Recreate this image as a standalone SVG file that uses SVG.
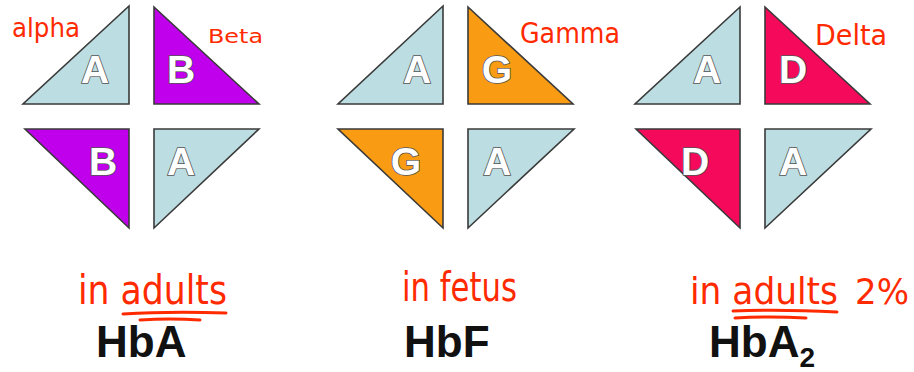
<svg xmlns="http://www.w3.org/2000/svg" width="914" height="372" viewBox="0 0 914 372">
<style>
.tri{stroke:#3a3a3a;stroke-width:1.6;stroke-linejoin:miter}
.a{fill:#bcdde1}
.b{fill:#c000ec}
.g{fill:#f99b13}
.d{fill:#f5095a}
.lt{font-family:"Liberation Sans",Arial,sans-serif;font-weight:bold;font-size:39px;fill:#fff;stroke:#555;stroke-width:1.6;paint-order:stroke;text-anchor:middle}
.hb{font-family:"Liberation Sans",Arial,sans-serif;font-weight:bold;font-size:44px;fill:#111}
.hand{font-family:"DejaVu Sans","Liberation Sans",sans-serif;fill:#ff2a00}
.ul{fill:none;stroke:#ff2a00;stroke-width:3;stroke-linecap:round}
</style>
<rect width="914" height="372" fill="#fff"/>
<g id="hba">
<polygon class="tri a" points="129,6 23,104 129,104"/>
<polygon class="tri b" points="154,7 154,104 259,104"/>
<polygon class="tri b" points="25,129 129,129 129,228"/>
<polygon class="tri a" points="154,129 259,129 154,228"/>
<text class="lt" x="95" y="83">A</text>
<text class="lt" x="181" y="83">B</text>
<text class="lt" x="103" y="175">B</text>
<text class="lt" x="181" y="175">A</text>
<text class="hb" x="96" y="357">HbA</text>
</g>
<g id="hbf">
<polygon class="tri a" points="443,6 338,104 443,104"/>
<polygon class="tri g" points="468,7 468,104 573,104"/>
<polygon class="tri g" points="338,129 443,129 443,228"/>
<polygon class="tri a" points="468,129 574,129 468,228"/>
<text class="lt" x="417" y="83">A</text>
<text class="lt" x="497" y="83">G</text>
<text class="lt" x="406" y="175">G</text>
<text class="lt" x="497" y="175">A</text>
<text class="hb" x="404" y="357">HbF</text>
</g>
<g id="hba2">
<polygon class="tri a" points="740,7 635,104 740,104"/>
<polygon class="tri d" points="765,7 765,104 870,104"/>
<polygon class="tri d" points="636,129 740,129 740,228"/>
<polygon class="tri a" points="765,129 871,129 765,228"/>
<text class="lt" x="707" y="83">A</text>
<text class="lt" x="793" y="83">D</text>
<text class="lt" x="695" y="175">D</text>
<text class="lt" x="793" y="175">A</text>
<text class="hb" x="709" y="357">HbA<tspan font-size="28" dy="10">2</tspan></text>
</g>
<g id="annotations">
<text class="hand" x="12" y="37" font-size="26" textLength="68" lengthAdjust="spacingAndGlyphs">alpha</text>
<text class="hand" x="208" y="43" font-size="20" textLength="55" lengthAdjust="spacingAndGlyphs">Beta</text>
<text class="hand" x="520" y="43" font-size="28" textLength="100" lengthAdjust="spacingAndGlyphs">Gamma</text>
<text class="hand" x="815" y="45" font-size="28" textLength="72" lengthAdjust="spacingAndGlyphs">Delta</text>
<text class="hand" x="78" y="304" font-size="40" textLength="149" lengthAdjust="spacingAndGlyphs">in adults</text>
<text class="hand" x="402" y="301" font-size="40" textLength="115" lengthAdjust="spacingAndGlyphs">in fetus</text>
<text class="hand" x="690" y="304" font-size="38" textLength="148" lengthAdjust="spacingAndGlyphs">in adults</text>
<text class="hand" x="855" y="304" font-size="36" textLength="54" lengthAdjust="spacingAndGlyphs">2%</text>
</g>
<g id="connectors">
<path class="ul" d="M123,314 Q170,311 226,313"/>
<path class="ul" d="M140,320 Q170,318 200,320"/>
<path class="ul" d="M733,311 Q780,309 837,312"/>
<path class="ul" d="M735,318 Q770,316 806,318"/>
</g>
</svg>
